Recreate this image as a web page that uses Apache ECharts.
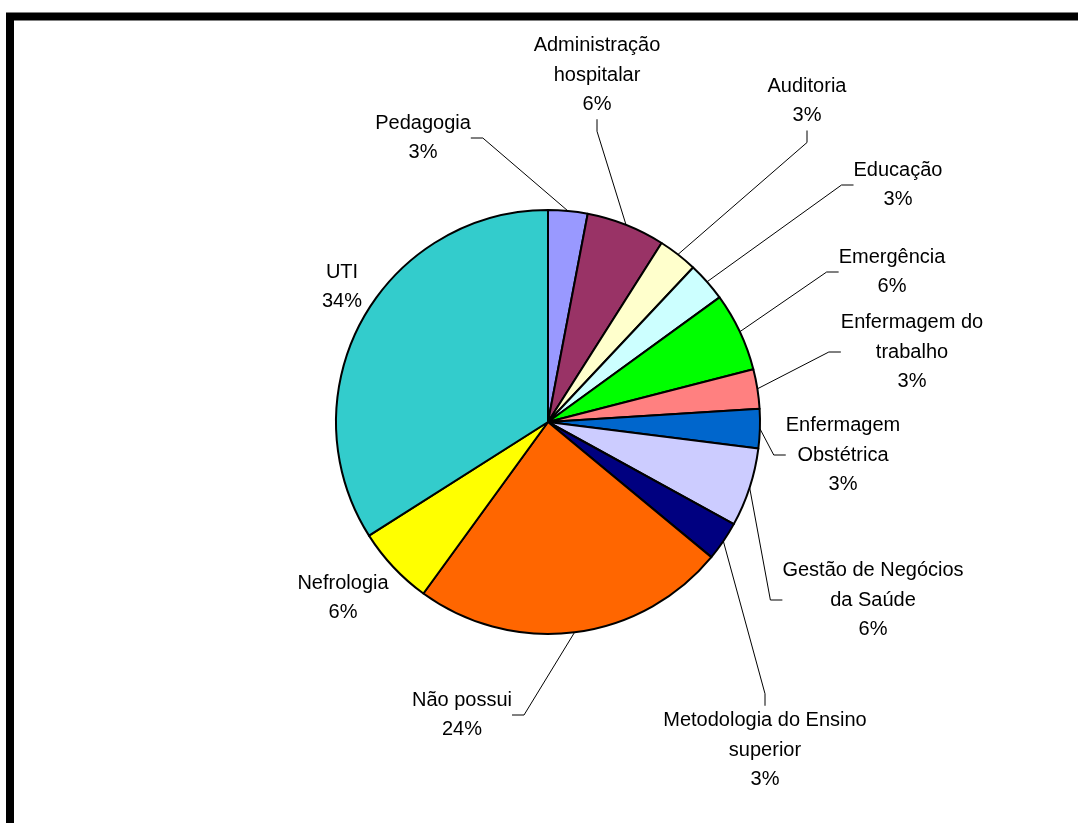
<!DOCTYPE html>
<html>
<head>
<meta charset="utf-8">
<script src="https://cdn.jsdelivr.net/npm/echarts@6/dist/echarts.min.js"></script>
<style>
html,body{margin:0;padding:0;background:#fff;}
#chart{width:1078px;height:823px;}
</style>
</head>
<body>
<div id="chart"></div>
<script>
const categories = [
  'Pedagogia',
  'Administração\nhospitalar',
  'Auditoria',
  'Educação',
  'Emergência',
  'Enfermagem do\ntrabalho',
  'Enfermagem\nObstétrica',
  'Gestão de Negócios\nda Saúde',
  'Metodologia do Ensino\nsuperior',
  'Não possui',
  'Nefrologia',
  'UTI'
];
const values = [3, 6, 3, 3, 6, 3, 3, 6, 3, 24, 6, 34];
const colors = ['#9999FF', '#993366', '#FFFFCC', '#CCFFFF', '#00FF00', '#FF8080',
                '#0066CC', '#CCCCFF', '#000080', '#FF6600', '#FFFF00', '#33CCCC'];
// label block centres (layout only)
const labelPos = [
  [423, 138], [597, 75], [807, 101], [898, 185], [892, 272], [912, 352],
  [843, 455], [873, 600], [765, 750], [462, 715], [343, 598], [342, 287]
];
const noLine = [false, false, false, false, false, false, false, false, false, false, true, true];

const chart = echarts.init(document.getElementById('chart'));
chart.setOption({
  animation: false,
  backgroundColor: '#ffffff',
  graphic: [{
    type: 'rect',
    shape: { x: 10, y: 16.5, width: 1300, height: 1100 },
    style: { fill: 'none', stroke: '#000', lineWidth: 8 },
    silent: true
  }],
  series: [{
    type: 'pie',
    center: [548, 422],
    radius: 212,
    startAngle: 90,
    clockwise: true,
    avoidLabelOverlap: false,
    data: categories.map((c, i) => ({
      name: c,
      value: values[i],
      itemStyle: { color: colors[i] },
      labelLine: { show: !noLine[i] }
    })),
    itemStyle: { borderColor: '#000', borderWidth: 2 },
    label: {
      show: true,
      formatter: p => p.name + '\n' + Math.round(p.percent) + '%',
      fontFamily: 'Liberation Sans, Arial, sans-serif',
      fontSize: 20,
      lineHeight: 29.5,
      color: '#000',
      align: 'center',
      verticalAlign: 'middle'
    },
    labelLine: {
      show: true,
      length: 20,
      length2: 12,
      lineStyle: { color: '#000', width: 1 }
    },
    labelLayout: function (params) {
      const p = labelPos[params.dataIndex];
      return { x: p[0], y: p[1], align: 'center', verticalAlign: 'middle' };
    },
    emphasis: { disabled: true }
  }]
});
</script>
</body>
</html>
